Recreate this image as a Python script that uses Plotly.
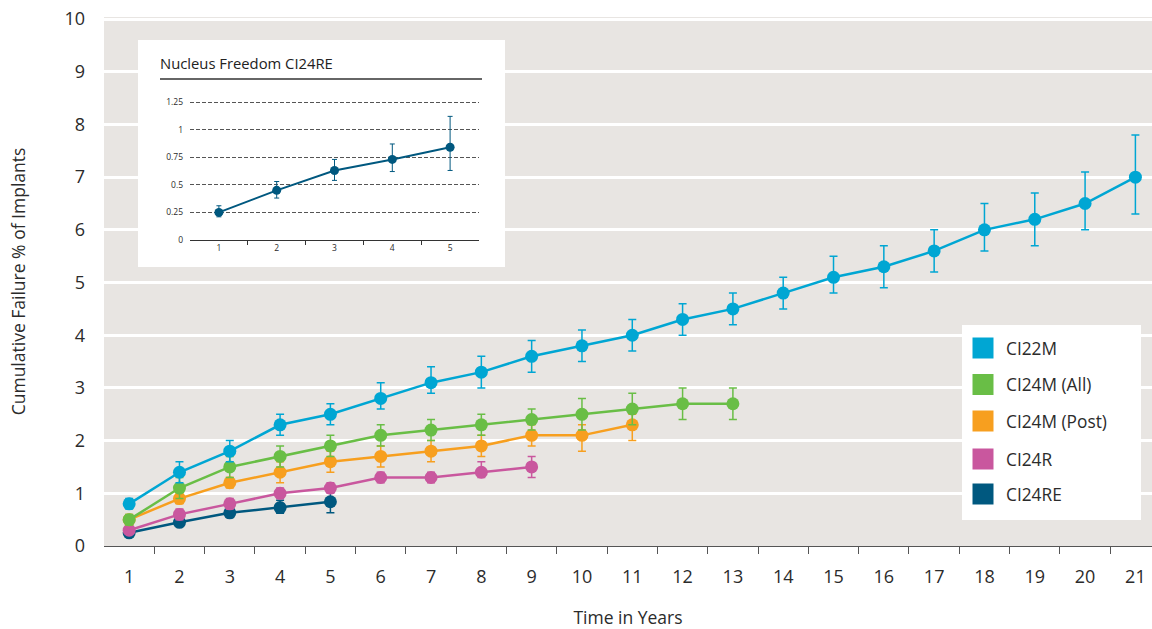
import plotly.graph_objects as go

# ---------------- data ----------------
years = list(range(1, 22))
x_labels = [str(y) for y in years]

ci22m = [0.8, 1.4, 1.8, 2.3, 2.5, 2.8, 3.1, 3.3, 3.6, 3.8, 4.0, 4.3, 4.5, 4.8, 5.1, 5.3, 5.6, 6.0, 6.2, 6.5, 7.0]
ci22m_hi = [0.9, 1.6, 2.0, 2.5, 2.7, 3.1, 3.4, 3.6, 3.9, 4.1, 4.3, 4.6, 4.8, 5.1, 5.5, 5.7, 6.0, 6.5, 6.7, 7.1, 7.8]
ci22m_lo = [0.7, 1.2, 1.6, 2.1, 2.3, 2.6, 2.9, 3.0, 3.3, 3.5, 3.7, 4.0, 4.2, 4.5, 4.8, 4.9, 5.2, 5.6, 5.7, 6.0, 6.3]

ci24m_all = [0.5, 1.1, 1.5, 1.7, 1.9, 2.1, 2.2, 2.3, 2.4, 2.5, 2.6, 2.7, 2.7]
ci24m_all_hi = [0.6, 1.3, 1.7, 1.9, 2.1, 2.3, 2.4, 2.5, 2.6, 2.8, 2.9, 3.0, 3.0]
ci24m_all_lo = [0.4, 0.9, 1.3, 1.5, 1.7, 1.9, 2.0, 2.1, 2.2, 2.2, 2.3, 2.4, 2.4]

ci24m_post = [0.5, 0.9, 1.2, 1.4, 1.6, 1.7, 1.8, 1.9, 2.1, 2.1, 2.3]
ci24m_post_hi = [0.6, 1.0, 1.3, 1.6, 1.8, 1.9, 2.0, 2.1, 2.3, 2.3, 2.5]
ci24m_post_lo = [0.4, 0.8, 1.1, 1.2, 1.4, 1.5, 1.6, 1.7, 1.9, 1.8, 2.0]

ci24r = [0.3, 0.6, 0.8, 1.0, 1.1, 1.3, 1.3, 1.4, 1.5]
ci24r_hi = [0.35, 0.7, 0.9, 1.1, 1.2, 1.4, 1.4, 1.6, 1.7]
ci24r_lo = [0.25, 0.5, 0.7, 0.9, 1.0, 1.2, 1.2, 1.3, 1.3]

ci24re = [0.25, 0.45, 0.63, 0.73, 0.84]
ci24re_hi = [0.31, 0.53, 0.73, 0.87, 1.12]
ci24re_lo = [0.21, 0.38, 0.54, 0.62, 0.63]

y_ticks = list(range(0, 11))
inset_y_ticks = [0, 0.25, 0.5, 0.75, 1, 1.25]
inset_y_labels = ["0", "0.25", "0.5", "0.75", "1", "1.25"]

series = [
    ("CI24RE", ci24re, ci24re_hi, ci24re_lo, "#00587F"),
    ("CI24R", ci24r, ci24r_hi, ci24r_lo, "#C9579E"),
    ("CI24M (Post)", ci24m_post, ci24m_post_hi, ci24m_post_lo, "#F79F1F"),
    ("CI24M (All)", ci24m_all, ci24m_all_hi, ci24m_all_lo, "#69BE46"),
    ("CI22M", ci22m, ci22m_hi, ci22m_lo, "#00A6D3"),
]
legend_order = ["CI22M", "CI24M (All)", "CI24M (Post)", "CI24R", "CI24RE"]
colors = {s[0]: s[4] for s in series}

FONT = "Open Sans"
TXT = "#2b2b2b"
BG = "#E8E5E2"

fig = go.Figure()

for name, vals, hi, lo, col in series:
    xs = years[:len(vals)]
    fig.add_trace(go.Scatter(
        x=xs, y=vals, name=name, mode="lines+markers",
        line=dict(color=col, width=2.5),
        marker=dict(color=col, size=13),
        error_y=dict(type="data", symmetric=False,
                     array=[h - v for h, v in zip(hi, vals)],
                     arrayminus=[v - l for v, l in zip(vals, lo)],
                     color=col, thickness=1.5, width=4),
        showlegend=False, xaxis="x", yaxis="y",
    ))

# inset
fig.add_trace(go.Scatter(
    x=years[:5], y=ci24re, mode="lines+markers", name="CI24RE inset",
    line=dict(color="#00587F", width=2),
    marker=dict(color="#00587F", size=9),
    error_y=dict(type="data", symmetric=False,
                 array=[h - v for h, v in zip(ci24re_hi, ci24re)],
                 arrayminus=[v - l for v, l in zip(ci24re, ci24re_lo)],
                 color="#00587F", thickness=1, width=2.5),
    showlegend=False, xaxis="x2", yaxis="y2",
))

L, W = 104, 1048
T, H = 17, 529


def px(x):
    return (x - L) / W


def py(y):
    return (T + H - y) / H


shapes = [
    # plot background
    dict(type="rect", xref="paper", yref="paper", x0=0, x1=1, y0=0, y1=1,
         fillcolor=BG, line=dict(width=0), layer="below"),
    # inset white box
    dict(type="rect", xref="paper", yref="paper", x0=px(138), x1=px(505), y0=py(267), y1=py(40),
         fillcolor="white", line=dict(width=0), layer="below"),
    # inset title underline
    dict(type="line", xref="paper", yref="paper", x0=px(160), x1=px(482), y0=py(79), y1=py(79),
         line=dict(color="#333333", width=1.3), layer="above"),
    # legend box
    dict(type="rect", xref="paper", yref="paper", x0=px(962), x1=px(1141), y0=py(520), y1=py(325),
         fillcolor="white", line=dict(width=0), layer="above"),
]

annotations = [
    dict(text="Nucleus Freedom CI24RE", xref="paper", yref="paper", x=px(158), y=py(63),
         xanchor="left", yanchor="middle", showarrow=False,
         font=dict(family=FONT, size=14.8, color="#222222")),
]

row_y = [348, 384.5, 421, 459, 494]
for name, yy in zip(legend_order, row_y):
    shapes.append(dict(type="rect", xref="paper", yref="paper",
                       xsizemode="pixel", ysizemode="pixel",
                       xanchor=px(983), yanchor=py(yy),
                       x0=-10.5, x1=10.5, y0=-10.5, y1=10.5,
                       fillcolor=colors[name], line=dict(width=0), layer="above"))
    annotations.append(dict(text=name, xref="paper", yref="paper", x=px(1004), y=py(yy),
                            xanchor="left", yanchor="middle", showarrow=False,
                            font=dict(family=FONT, size=17.3, color=TXT)))

fig.update_layout(
    width=1152, height=629,
    margin=dict(l=L, r=0, t=T, b=629 - T - H, autoexpand=False),
    paper_bgcolor="white", plot_bgcolor="rgba(0,0,0,0)",
    font=dict(family=FONT, color=TXT),
    shapes=shapes, annotations=annotations,
    xaxis=dict(domain=[0, 1], range=[0.5, 21.33], tickvals=years, ticktext=x_labels,
               ticks="", showgrid=False, zeroline=False, automargin=False,
               showline=True, linecolor="#555555", linewidth=1.2,
               tickfont=dict(size=18, color=TXT), ticklabelstandoff=14,
               minor=dict(tickvals=[y + 0.5 for y in years], ticks="outside", ticklen=7,
                          tickcolor="#555555", tickwidth=1, showgrid=False),
               title=dict(text="Time in Years", font=dict(size=17.5, color=TXT), standoff=27),
               fixedrange=True),
    yaxis=dict(domain=[0, 1], range=[0, 10.04], tickvals=y_ticks,
               showgrid=True, gridcolor="white", gridwidth=2.5, zeroline=False,
               showline=False, ticks="", ticklabelstandoff=18, automargin=False,
               tickfont=dict(size=18, color=TXT),
               title=dict(text="Cumulative Failure % of Implants", font=dict(size=17.5, color=TXT), standoff=34),
               fixedrange=True),
    xaxis2=dict(domain=[px(190), px(479)], anchor="y2", range=[0.5, 5.5],
                tickvals=years[:5], ticktext=x_labels[:5], ticks="", automargin=False,
                showgrid=False, zeroline=False, showline=True, linecolor="#333333", linewidth=1.2,
                tickfont=dict(size=8.5, color=TXT),
                minor=dict(tickvals=[1.5, 2.5, 3.5, 4.5], ticks="outside", ticklen=4,
                           tickcolor="#333333", tickwidth=1, showgrid=False),
                fixedrange=True),
    yaxis2=dict(domain=[py(240), py(96.5)], anchor="x2", range=[0, 1.3],
                tickvals=inset_y_ticks, ticktext=inset_y_labels, ticks="",
                showgrid=True, gridcolor="#555555", gridwidth=1, griddash="4px,2px",
                zeroline=False, showline=False, tickfont=dict(size=8.5, color=TXT),
                ticklabelstandoff=6, automargin=False, fixedrange=True),
)

fig.write_html("out.html", config={"displayModeBar": False},
               post_script="document.body.style.margin='0';document.body.style.overflow='hidden';")
